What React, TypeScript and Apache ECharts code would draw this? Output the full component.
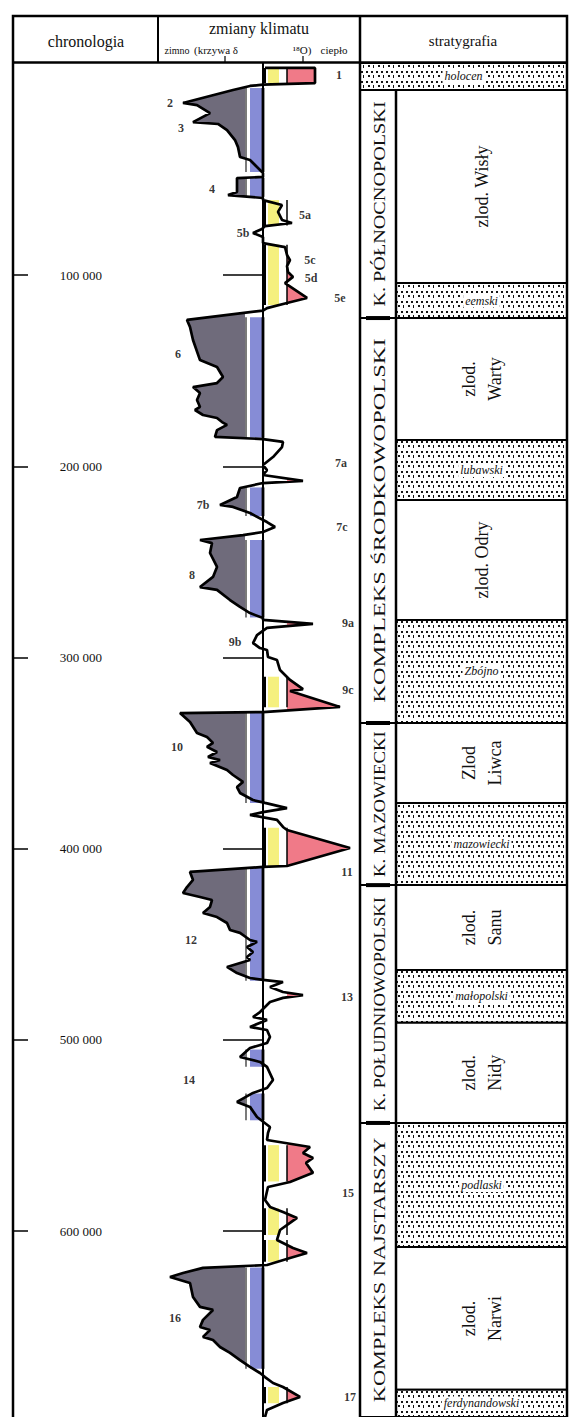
import React, { useEffect, useRef } from "react";
import * as echarts from "echarts";

const FONT = '"Liberation Serif", "DejaVu Serif", serif';

// vertical age scale (thousand years before present)
const AGE_MIN = -11;
const AGE_MAX = 697.2;
const chronoTicks = [100, 200, 300, 400, 500, 600];

// δ18O climate curve: [age ka, relative value (negative = cold, positive = warm)]
const curve: [number, number][] = [
  [-8.4, 2], [-8.4, 52], [-0.5, 52], [0.3, 0], [1, -13], [3.1, -30], [9.9, -80], [11, -66], [15.2, -53],
  [19.9, -70], [20.9, -45], [24.1, -36], [29.3, -28], [33, -25], [38.2, -23], [39.7, -13], [43.4, -6],
  [46.5, 0], [48.6, 0], [49.2, -26], [56.5, -26], [58.1, -35], [59.6, 0], [60.7, 0], [63.3, 19],
  [66.9, 15], [71.1, 19], [72.7, 29], [74.3, 2], [75.8, -1], [77.9, -10], [80, 0], [83.2, 0],
  [85.3, 22], [89.4, 24], [92.1, 27], [95.2, 24], [98.3, 25], [100.9, 30], [104.1, 22], [111.9, 44],
  [114.5, 24], [117.2, 4], [118.5, 0], [123.4, -76], [127.1, -73], [133.9, -70], [144.4, -63],
  [148, -46], [153.2, -40], [156.4, -46], [158.5, -70], [161.6, -63], [165.3, -66], [168.9, -63],
  [170.5, -68], [173.1, -60], [174.7, -46], [176.8, -41], [178.3, -36], [181, -46], [184.6, -48],
  [185.7, 0], [187.2, 20], [189.9, 19], [195.1, 10], [199.3, 0], [201.9, 4], [204.5, 0], [207.6, 40],
  [208.7, 0], [211.3, -23], [216, -26], [220.2, -43], [221.2, -30], [224.4, -13], [229.1, 4],
  [231.7, 12], [234.3, 0], [235.9, -20], [238.5, -63], [240.1, -51], [245.3, -53], [252.6, -46],
  [257.8, -50], [263.1, -63], [264.6, -46], [269.9, -33], [273.5, -23], [276.7, -13], [279.3, 0],
  [280.3, 0], [282.4, 50], [284.5, 4], [288.2, -6], [292.4, -10], [295, -3], [296, 4], [299.7, 5],
  [301.3, 14], [306.5, 17], [311.7, 27], [316.5, 40], [317.5, 27], [325.8, 77], [328.5, 0],
  [329, -83], [333.7, -73], [339.4, -66], [341.5, -56], [344.6, -50], [346.7, -56], [349.4, -46],
  [352, -55], [353.6, -43], [355.1, -53], [358.8, -36], [361.4, -30], [365, -20], [367.7, -26],
  [370.8, -23], [374.5, -10], [376, 2], [378.7, 24], [380.8, 0], [382.3, -13], [384.9, 14],
  [388.6, 20], [390.2, 24], [399.6, 87], [409, 24], [409.5, 0], [412.1, -73], [416.3, -70],
  [420, -76], [423.1, -80], [425.2, -63], [426.8, -51], [430.4, -53], [433.6, -60], [435.7, -46],
  [438.8, -36], [442.5, -33], [444, -23], [447.7, -13], [448.7, -6], [451.4, -16], [454, -10],
  [456.6, -16], [458.2, -13], [461.8, -36], [465, -26], [467.6, -13], [468.6, 0], [469.7, 20],
  [472.3, 7], [474.9, 20], [476.5, 40], [478, 20], [480.1, 7], [485.4, -3], [488, -10], [489.5, 4],
  [493.2, -13], [494.8, 4], [498.4, 7], [501.6, 4], [504.2, -13], [508.9, -23], [511.5, -3],
  [514.1, 4], [520.9, 10], [525.1, 4], [527.7, -10], [532.4, -26], [535, -13], [540.3, -6],
  [545.5, 7], [548.6, 5], [552.3, 4], [556, 47], [559.1, 40], [561.7, 50], [564.3, 43], [569.5, 50],
  [574.3, 27], [576.9, 5], [583.7, 2], [587.3, 7], [590, 20], [593.1, 34], [595.7, 27], [599.4, 17],
  [604.6, 14], [608.8, 30], [611.4, 44], [614, 27], [617.7, 4], [619.2, -60], [621.9, -80],
  [624, -93], [627.1, -73], [634.4, -70], [639.6, -63], [641.2, -50], [646.4, -60], [650.1, -63],
  [651.7, -53], [655.3, -60], [656.9, -50], [660.6, -43], [663.7, -33], [667.4, -23], [671, -13],
  [674.2, -3], [676.3, 2], [679.4, 10], [681.5, 20], [686.7, 37], [689.9, 20], [693.5, 4], [697.2, 2],
];

// cold (glacial) and warm (interglacial) stage bands: [start ka, end ka]
const coldBands: [number, number][] = [
  [2.1, 46], [49, 59], [122, 185], [211, 226], [238.5, 279], [329, 376], [410, 469],
  [505, 514], [528, 542], [619, 672],
];
const warmBands: [number, number][] = [
  [-8.4, -0.5], [60.7, 74], [84, 115.6], [310, 326], [389, 409], [555, 574], [588, 602],
  [604.6, 616], [681.5, 690],
];

// marine isotope stage labels
const stageLabelNames = ["1", "2", "3", "4", "5a", "5b", "5c", "5d", "5e", "6", "7a", "7b", "7c", "8",
  "9a", "9b", "9c", "10", "11", "12", "13", "14", "15", "16", "17"];
const stageLabelAges = [-4.7, 10, 23, 55, 68.5, 78, 92, 101.5, 112, 141, 198, 220, 231.7, 257,
  282, 292, 317, 346.7, 412, 447.7, 477.5, 521, 580, 645.4, 687];
const stageLabelValues = [76, -93, -82, -51, 42, -20, 47, 48, 77, -85, 78, -60, 79, -71,
  85, -28, 85, -86, 84, -72, 84, -74, 85, -88, 87];

// stratigraphy
const stratNames = ["holocen", "zlod. Wisły", "eemski", "zlod.\nWarty", "lubawski", "zlod. Odry",
  "Zbójno", "Zlod\nLiwca", "mazowiecki", "zlod.\nSanu", "małopolski", "zlod.\nNidy", "podlaski",
  "zlod.\nNarwi", "ferdynandowski"];
const stratBounds = [-11, 3.1, 104.1, 122.4, 186.2, 217.6, 280.3, 334.2, 376, 419, 463.4, 491,
  543.4, 608.3, 683, 697.2];
const stratInterglacial = [1, 0, 1, 0, 1, 0, 1, 0, 1, 0, 1, 0, 1, 0, 1];

const complexNames = ["K. PÓŁNOCNOPOLSKI", "KOMPLEKS ŚRODKOWOPOLSKI", "K. MAZOWIECKI",
  "K. POŁUDNIOWOPOLSKI", "KOMPLEKS NAJSTARSZY"];
const complexBounds = [3.1, 122.4, 334.2, 419, 543.4, 697.2];

const GRAY = "#6f6b7b";
const BLUE = "#868cd6";
const YELLOW = "#f5f07e";
const PINK = "#f07a88";

function clampPolygon(pts: [number, number][], limit: number, cold: boolean) {
  const out: [number, number][] = [];
  for (let i = 0; i < pts.length; i++) {
    const [a, v] = pts[i];
    if (i > 0) {
      const [a0, v0] = pts[i - 1];
      if ((v0 - limit) * (v - limit) < 0) {
        const t = (limit - v0) / (v - v0);
        out.push([a0 + t * (a - a0), limit]);
      }
    }
    out.push([a, cold ? Math.min(v, limit) : Math.max(v, limit)]);
  }
  out.push([pts[pts.length - 1][0], limit]);
  out.push([pts[0][0], limit]);
  return out;
}

export default function App() {
  const ref = useRef<HTMLDivElement>(null);
  useEffect(() => {
    if (!ref.current) return;
    const chart = echarts.init(ref.current, null, { renderer: "svg" });

    const pc = document.createElement("canvas");
    pc.width = 10;
    pc.height = 10;
    const g = pc.getContext("2d")!;
    g.fillStyle = "#fff";
    g.fillRect(0, 0, 10, 10);
    g.fillStyle = "#151515";
    g.fillRect(1, 1, 2, 2);
    g.fillRect(6, 1, 2, 2);
    g.fillRect(3, 5, 1, 3);
    g.fillRect(8, 5, 2, 2);
    const pattern: any = { image: pc.toDataURL(), repeat: "repeat", imageWidth: 10, imageHeight: 10 };

    const mctx = document.createElement("canvas").getContext("2d")!;
    const measure = (t: string, size: number) => {
      mctx.font = `${size}px "Liberation Serif"`;
      return mctx.measureText(t).width;
    };

    const axisLine = { color: "#000", width: 1.5 };

    const option: any = {
      animation: false,
      backgroundColor: "#fff",
      grid: [
        { left: 158, top: 63, width: 202, height: 1354 },
        { left: 360, top: 63, width: 207, height: 1354 },
      ],
      xAxis: [
        { gridIndex: 0, type: "value", min: -105, max: 97, show: false },
        { gridIndex: 1, type: "value", min: 0, max: 207, show: false },
      ],
      yAxis: [
        {
          gridIndex: 0, type: "value", inverse: true, min: AGE_MIN, max: AGE_MAX, position: "left",
          axisLine: { show: true, lineStyle: { color: "#000", width: 2 } },
          axisTick: { show: true, length: 40, customValues: chronoTicks, lineStyle: axisLine },
          axisLabel: {
            show: true, customValues: chronoTicks, margin: 56,
            formatter: (v: number) => `${v} 000`, color: "#111", fontSize: 13, fontFamily: FONT,
          },
          splitLine: { show: false },
        },
        {
          gridIndex: 0, type: "value", inverse: true, min: AGE_MIN, max: AGE_MAX, position: "left",
          offset: 145, axisLine: { show: false },
          axisTick: { show: true, inside: true, length: 15, customValues: chronoTicks, lineStyle: axisLine },
          axisLabel: { show: false }, splitLine: { show: false },
        },
        { gridIndex: 1, type: "value", inverse: true, min: AGE_MIN, max: AGE_MAX, show: false },
      ],
      series: [
        {
          type: "custom", xAxisIndex: 0, yAxisIndex: 0, silent: true, z: 2,
          data: [[0, 0]],
          renderItem: (_p: any, api: any) => {
            const toPx = (pts: [number, number][]) => pts.map(([a, v]) => api.coord([v, a]));
            return {
              type: "group",
              children: [
                { type: "polygon", shape: { points: toPx(clampPolygon(curve, -18, true)) }, style: { fill: GRAY } },
                { type: "polygon", shape: { points: toPx(clampPolygon(curve, 24, false)) }, style: { fill: PINK } },
              ],
            };
          },
        },
        {
          type: "custom", xAxisIndex: 0, yAxisIndex: 0, silent: true, z: 3,
          data: coldBands,
          renderItem: (_p: any, api: any) => {
            const s = api.value(0), e = api.value(1);
            const a = api.coord([-13, s]), b = api.coord([-1, e]);
            const l0 = api.coord([0, s]), l1 = api.coord([0, e]);
            const k0 = api.coord([-17, s]), k1 = api.coord([-17, e]);
            return {
              type: "group",
              children: [
                { type: "rect", shape: { x: a[0], y: a[1], width: b[0] - a[0], height: b[1] - a[1] }, style: { fill: BLUE } },
                { type: "line", shape: { x1: k0[0], y1: k0[1], x2: k1[0], y2: k1[1] }, style: { stroke: "#222", lineWidth: 1.2 } },
                { type: "line", shape: { x1: l0[0], y1: l0[1], x2: l1[0], y2: l1[1] }, style: { stroke: "#000", lineWidth: 2.8 } },
              ],
            };
          },
        },
        {
          type: "custom", xAxisIndex: 0, yAxisIndex: 0, silent: true, z: 3,
          data: warmBands,
          renderItem: (_p: any, api: any) => {
            const s = api.value(0), e = api.value(1);
            const a = api.coord([5, s]), b = api.coord([16, e]);
            const l0 = api.coord([2, s]), l1 = api.coord([2, e]);
            const r0 = api.coord([24, s]), r1 = api.coord([24, e]);
            return {
              type: "group",
              children: [
                { type: "rect", shape: { x: a[0], y: a[1], width: b[0] - a[0], height: b[1] - a[1] }, style: { fill: YELLOW } },
                { type: "line", shape: { x1: l0[0], y1: l0[1], x2: l1[0], y2: l1[1] }, style: { stroke: "#000", lineWidth: 2 } },
                { type: "line", shape: { x1: r0[0], y1: r0[1], x2: r1[0], y2: r1[1] }, style: { stroke: "#000", lineWidth: 1.5 } },
              ],
            };
          },
        },
        {
          type: "line", xAxisIndex: 0, yAxisIndex: 0, silent: true, z: 4,
          data: curve.map(([a, v]) => [v, a]),
          symbol: "none",
          lineStyle: { color: "#000", width: 2.7 },
        },
        {
          type: "scatter", xAxisIndex: 0, yAxisIndex: 0, silent: true, z: 5,
          symbolSize: 0,
          data: stageLabelNames.map((n, i) => ({ name: n, value: [stageLabelValues[i], stageLabelAges[i]] })),
          label: {
            show: true, position: "inside", formatter: "{b}", color: "#000",
            fontSize: 12, fontWeight: "bold", fontFamily: FONT,
          },
        },
        {
          type: "custom", xAxisIndex: 1, yAxisIndex: 2, silent: true, z: 2,
          data: stratNames.map((_, i) => [stratBounds[i], stratBounds[i + 1]]),
          renderItem: (p: any, api: any) => {
            const i = p.dataIndex;
            const s = api.value(0), e = api.value(1);
            const p0 = api.coord([i === 0 ? 0 : 36, s]);
            const p1 = api.coord([207, e]);
            const inter = stratInterglacial[i] === 1;
            const cx = (p0[0] + p1[0]) / 2, cy = (p0[1] + p1[1]) / 2;
            const children: any[] = [
              {
                type: "rect",
                shape: { x: p0[0], y: p0[1], width: p1[0] - p0[0], height: p1[1] - p0[1] },
                style: { fill: inter ? pattern : "#fff", stroke: "#000", lineWidth: 2 },
              },
            ];
            if (inter) {
              children.push({
                type: "text", x: cx, y: cy,
                style: {
                  text: stratNames[i], fontFamily: FONT, fontSize: 12, fontStyle: "italic", fill: "#111",
                  align: "center", verticalAlign: "middle", backgroundColor: "#fff", padding: [1, 2],
                },
              });
            } else {
              children.push({
                type: "text", x: cx, y: cy, rotation: Math.PI / 2,
                style: {
                  text: stratNames[i], fontFamily: FONT, fontSize: 18, fill: "#111",
                  align: "center", verticalAlign: "middle", lineHeight: 26,
                },
              });
            }
            return { type: "group", children };
          },
        },
        {
          type: "custom", xAxisIndex: 1, yAxisIndex: 2, silent: true, z: 2,
          data: complexNames.map((_, i) => [complexBounds[i], complexBounds[i + 1]]),
          renderItem: (p: any, api: any) => {
            const i = p.dataIndex;
            const s = api.value(0), e = api.value(1);
            const p0 = api.coord([0, s]);
            const p1 = api.coord([36, e]);
            const len = p1[1] - p0[1];
            const name = complexNames[i];
            const w = measure(name, 16);
            const sc = Math.min(1.7, (0.9 * len) / w);
            const children: any[] = [
              {
                type: "rect",
                shape: { x: p0[0], y: p0[1], width: p1[0] - p0[0], height: len },
                style: { fill: "#fff", stroke: "#000", lineWidth: 2 },
              },
              {
                type: "text", x: (p0[0] + p1[0]) / 2 + 1, y: (p0[1] + p1[1]) / 2,
                rotation: Math.PI / 2, scaleX: sc, scaleY: 1.05,
                style: {
                  text: name, fontFamily: FONT, fontSize: 16, fill: "#111",
                  align: "center", verticalAlign: "middle",
                },
              },
            ];
            if (i > 0) {
              children.push({
                type: "line",
                shape: { x1: p0[0] + 6, y1: p0[1], x2: p1[0] - 6, y2: p0[1] },
                style: { stroke: "#000", lineWidth: 4 },
              });
            }
            return { type: "group", children };
          },
        },
      ],
      graphic: {
        elements: [
          { type: "rect", z: 100, shape: { x: 13, y: 16, width: 554, height: 1430 }, style: { fill: "none", stroke: "#000", lineWidth: 2.5 } },
          { type: "line", z: 100, shape: { x1: 13, y1: 62.5, x2: 567, y2: 62.5 }, style: { stroke: "#000", lineWidth: 2.5 } },
          { type: "line", z: 100, shape: { x1: 158, y1: 16, x2: 158, y2: 63 }, style: { stroke: "#000", lineWidth: 2 } },
          { type: "line", z: 100, shape: { x1: 360, y1: 16, x2: 360, y2: 1417 }, style: { stroke: "#000", lineWidth: 2.5 } },
          { type: "line", z: 100, shape: { x1: 396, y1: 90, x2: 396, y2: 1417 }, style: { stroke: "#000", lineWidth: 2.5 } },
          { type: "line", z: 100, shape: { x1: 225, y1: 56, x2: 225, y2: 62 }, style: { stroke: "#000", lineWidth: 1.2 } },
          { type: "line", z: 100, shape: { x1: 303, y1: 56, x2: 303, y2: 62 }, style: { stroke: "#000", lineWidth: 1.2 } },
          { type: "text", z: 100, x: 86, y: 41, style: { text: "chronologia", fontFamily: FONT, fontSize: 16, fill: "#111", align: "center", verticalAlign: "middle" } },
          { type: "text", z: 100, x: 259, y: 28, style: { text: "zmiany klimatu", fontFamily: FONT, fontSize: 16, fill: "#111", align: "center", verticalAlign: "middle" } },
          { type: "text", z: 100, x: 177, y: 50, style: { text: "zimno", fontFamily: FONT, fontSize: 10, fill: "#111", align: "center", verticalAlign: "middle" } },
          { type: "text", z: 100, x: 216, y: 50, style: { text: "(krzywa δ", fontFamily: FONT, fontSize: 11, fill: "#111", align: "center", verticalAlign: "middle" } },
          { type: "text", z: 100, x: 302, y: 50, style: { text: "¹⁸O)", fontFamily: FONT, fontSize: 11, fill: "#111", align: "center", verticalAlign: "middle" } },
          { type: "text", z: 100, x: 334, y: 50, style: { text: "ciepło", fontFamily: FONT, fontSize: 11, fill: "#111", align: "center", verticalAlign: "middle" } },
          { type: "text", z: 100, x: 463, y: 41, style: { text: "stratygrafia", fontFamily: FONT, fontSize: 15, fill: "#111", align: "center", verticalAlign: "middle" } },
        ],
      },
    };

    chart.setOption(option);
    return () => chart.dispose();
  }, []);

  return (
    <div
      ref={ref}
      style={{ position: "absolute", left: 0, top: 0, width: 570, height: 1417, background: "#fff" }}
    />
  );
}
